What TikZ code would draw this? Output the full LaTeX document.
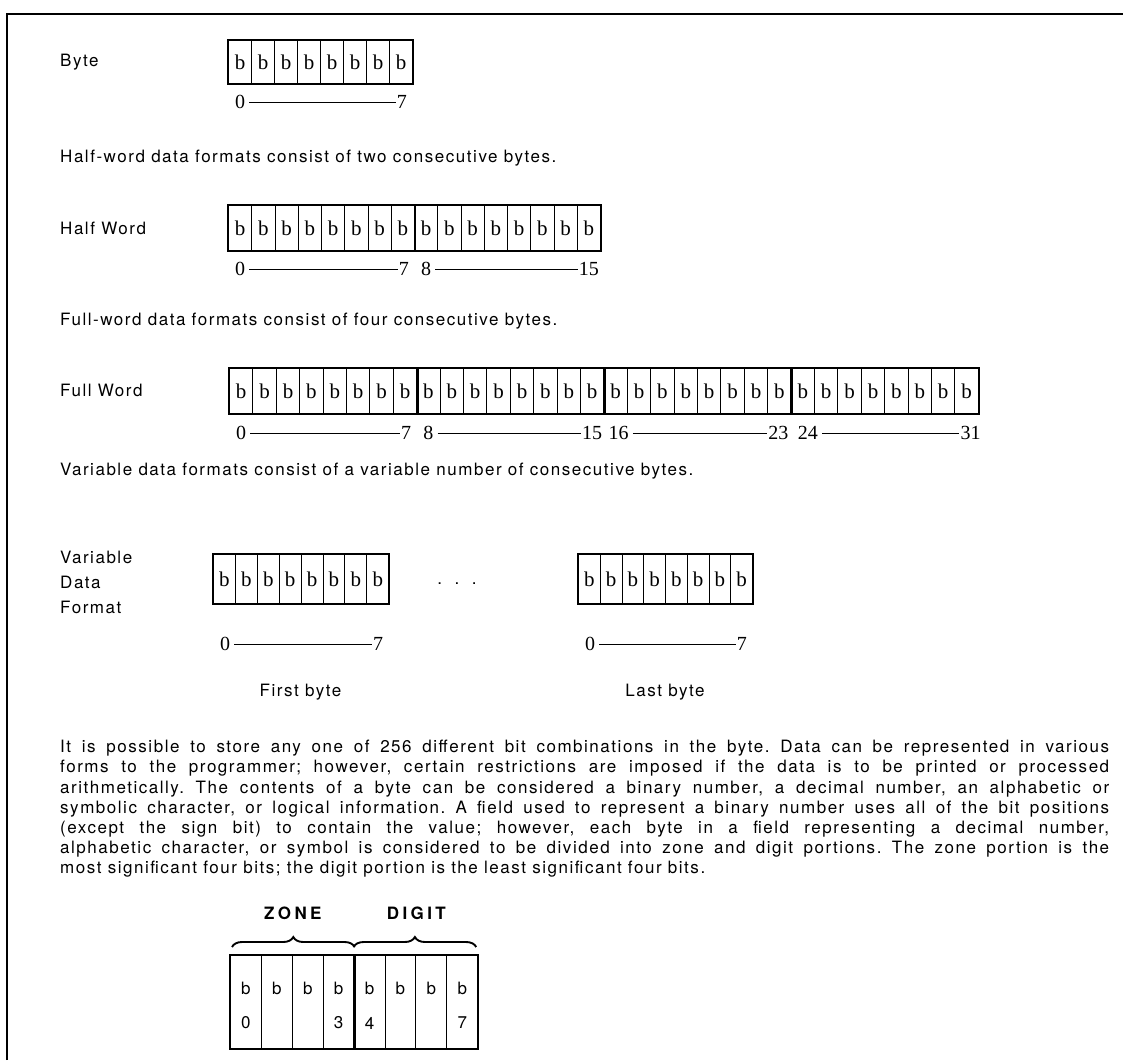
\documentclass[tikz,border=0pt]{standalone}
\usepackage{fontspec}
\usetikzlibrary{decorations.pathreplacing}
\newfontfamily\txtfont{TeX Gyre Heros}[LetterSpace=9]
\newfontfamily\headfont{TeX Gyre Heros}[LetterSpace=20]
\newfontfamily\bitfont{Liberation Serif}
\frenchspacing

\tikzset{
 cell/.style={draw,line width=1pt,inner sep=0pt,anchor=north west,font=\bitfont\fontsize{21}{21}\selectfont},
 outline/.style={line width=1.8pt},
 bytesep/.style={line width=2.6pt},
 bitnum/.style={inner sep=0pt,font=\bitfont\fontsize{20}{20}\selectfont},
 span/.style={line width=1pt,shorten <=4pt,shorten >=1pt},
 lbl/.style={inner sep=0pt,anchor=west,align=left,font=\txtfont\fontsize{17}{25}\selectfont},
 para/.style={inner sep=0pt,anchor=north west,text width=1049pt,align=justify,font=\txtfont\fontsize{17}{20.2}\selectfont},
 zbit/.style={inner sep=0pt,font=\txtfont\fontsize{17}{17}\selectfont},
 zonehead/.style={inner sep=0pt,font=\headfont\bfseries\fontsize{17}{17}\selectfont},
 zbrace/.style={decorate,decoration={brace,amplitude=10pt},line width=1.9pt},
 frame/.style={line width=2.4pt}
}

\begin{document}
\begin{tikzpicture}[x=1pt,y=-1pt]
\useasboundingbox (0,0) rectangle (1123,1060);
\draw[frame] (7,1060) -- (7,14) -- (1123,14);

% byte
\node[lbl] (bytelbl) at (60,62) {Byte};
\foreach \i in {0,...,7}
  \node[cell,minimum width=23pt,minimum height=43pt] (b\i) at ({228+23*\i},40) {b};
\draw[outline] (b0.north west) rectangle (b7.south east);
\node[bitnum,anchor=west] (bn0) at ([xshift=7pt,yshift=-18pt]b0.south west) {0};
\node[bitnum,anchor=east] (bn7) at ([xshift=-6pt,yshift=-18pt]b7.south east) {7};
\draw[span] (bn0) -- (bn7);

% half word
\node[lbl,anchor=north west] (hwtxt) at (60,150) {Half-word data formats consist of two consecutive bytes.};
\node[lbl] (hwlbl) at (60,228) {Half Word};
\foreach \i in {0,...,15}
  \node[cell,minimum width=23.25pt,minimum height=45pt] (hw\i) at ({228+23.25*\i},205) {b};
\draw[outline] (hw0.north west) rectangle (hw15.south east);
\draw[bytesep] (hw7.north east) -- (hw7.south east);
\node[bitnum,anchor=west] (hwn0) at ([xshift=7pt,yshift=-18pt]hw0.south west) {0};
\node[bitnum,anchor=east] (hwn7) at ([xshift=-6pt,yshift=-18pt]hw7.south east) {7};
\node[bitnum,anchor=west] (hwn8) at ([xshift=7pt,yshift=-18pt]hw8.south west) {8};
\node[bitnum,anchor=east] (hwn15) at ([xshift=-2pt,yshift=-18pt]hw15.south east) {15};
\draw[span] (hwn0) -- (hwn7);
\draw[span] (hwn8) -- (hwn15);

% full word
\node[lbl,anchor=north west] (fwtxt) at (60,313) {Full-word data formats consist of four consecutive bytes.};
\node[lbl] (fwlbl) at (60,390) {Full Word};
\foreach \i in {0,...,31}
  \node[cell,minimum width=23.4pt,minimum height=45pt] (fw\i) at ({229+23.4*\i},368) {b};
\draw[outline] (fw0.north west) rectangle (fw31.south east);
\foreach \i in {7,15,23}
  \draw[bytesep] (fw\i.north east) -- (fw\i.south east);
\node[bitnum,anchor=west] (fwn0) at ([xshift=7pt,yshift=-19pt]fw0.south west) {0};
\node[bitnum,anchor=east] (fwn7) at ([xshift=-6pt,yshift=-19pt]fw7.south east) {7};
\node[bitnum,anchor=west] (fwn8) at ([xshift=7pt,yshift=-19pt]fw8.south west) {8};
\node[bitnum,anchor=east] (fwn15) at ([xshift=-2pt,yshift=-19pt]fw15.south east) {15};
\node[bitnum,anchor=west] (fwn16) at ([xshift=5pt,yshift=-19pt]fw16.south west) {16};
\node[bitnum,anchor=east] (fwn23) at ([xshift=-3pt,yshift=-19pt]fw23.south east) {23};
\node[bitnum,anchor=west] (fwn24) at ([xshift=7pt,yshift=-19pt]fw24.south west) {24};
\node[bitnum,anchor=east] (fwn31) at ([xshift=2pt,yshift=-19pt]fw31.south east) {31};
\draw[span] (fwn0) -- (fwn7);
\draw[span] (fwn8) -- (fwn15);
\draw[span] (fwn16) -- (fwn23);
\draw[span] (fwn24) -- (fwn31);

% variable
\node[lbl,anchor=north west] (vartxt) at (60,463) {Variable data formats consist of a variable number of consecutive bytes.};
\node[lbl] (varlbl) at (60,582) {Variable\\Data\\Format};
\foreach \i in {0,...,7}
  \node[cell,minimum width=21.9pt,minimum height=49pt] (va\i) at ({213+21.9*\i},554) {b};
\foreach \i in {0,...,7}
  \node[cell,minimum width=21.75pt,minimum height=49pt] (vb\i) at ({578+21.75*\i},554) {b};
\draw[outline] (va0.north west) rectangle (va7.south east);
\draw[outline] (vb0.north west) rectangle (vb7.south east);
\node[zbit] (dots) at (457,584) {.\ \ .\ \ .};
\node[bitnum,anchor=west] (van0) at ([xshift=7pt,yshift=-40pt]va0.south west) {0};
\node[bitnum,anchor=east] (van7) at ([xshift=-6pt,yshift=-40pt]va7.south east) {7};
\node[bitnum,anchor=west] (vbn0) at ([xshift=7pt,yshift=-40pt]vb0.south west) {0};
\node[bitnum,anchor=east] (vbn7) at ([xshift=-6pt,yshift=-40pt]vb7.south east) {7};
\draw[span] (van0) -- (van7);
\draw[span] (vbn0) -- (vbn7);
\node[lbl,anchor=center] (firstlbl) at (300.5,692) {First byte};
\node[lbl,anchor=center] (lastlbl) at (665,692) {Last byte};

% paragraph
\node[para] (info) at (60,740) {It is possible to store any one of 256 different bit combinations in the byte. Data can be represented in various\linebreak
forms to the programmer; however, certain restrictions are imposed if the data is to be printed or processed\linebreak
arithmetically. The contents of a byte can be considered a binary number, a decimal number, an alphabetic or\linebreak
symbolic character, or logical information. A field used to represent a binary number uses all of the bit positions\linebreak
(except the sign bit) to contain the value; however, each byte in a field representing a decimal number,\linebreak
alphabetic character, or symbol is considered to be divided into zone and digit portions. The zone portion is the\linebreak
most significant four bits; the digit portion is the least significant four bits.};

% zone and digit
\foreach \i in {0,...,7}
  \node[draw,line width=1pt,inner sep=0pt,anchor=north west,minimum width=30.9pt,minimum height=93pt] (z\i) at ({230+30.9*\i},955) {};
\draw[outline] (z0.north west) rectangle (z7.south east);
\draw[bytesep] (z3.north east) -- (z3.south east);
\foreach \i in {0,...,7}
  \node[zbit] (zb\i) at ([yshift=-33pt]z\i.north) {b};
\node[zbit] (zd0) at ([yshift=-68pt]z0.north) {0};
\node[zbit] (zd3) at ([yshift=-68pt]z3.north) {3};
\node[zbit] (zd4) at ([yshift=-68pt]z4.north) {4};
\node[zbit] (zd7) at ([yshift=-68pt]z7.north) {7};
\draw[zbrace] ([xshift=2pt,yshift=8pt]z0.north west) -- ([yshift=8pt]z3.north east);
\draw[zbrace] ([yshift=8pt]z4.north west) -- ([xshift=-2pt,yshift=8pt]z7.north east);
\node[zonehead] (zone) at ([yshift=42pt]z1.north east) {ZONE};
\node[zonehead] (digit) at ([yshift=42pt]z5.north east) {DIGIT};
\end{tikzpicture}
\end{document}
